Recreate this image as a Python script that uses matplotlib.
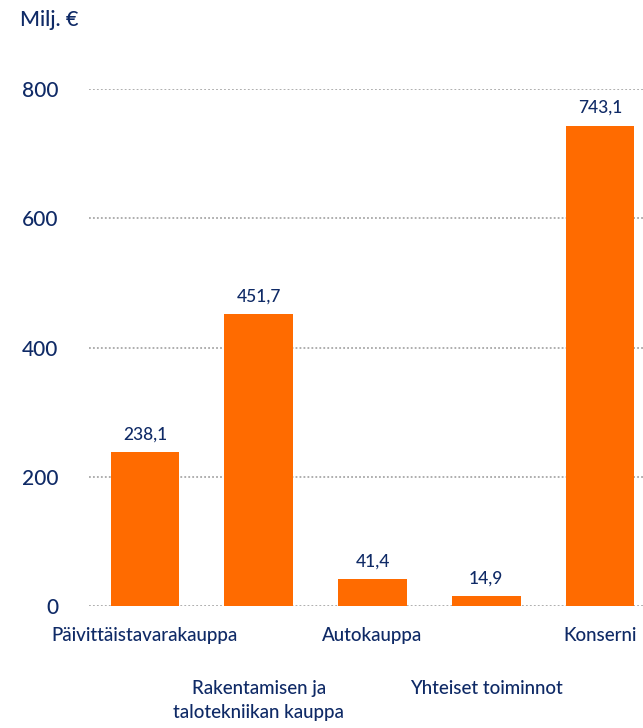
import matplotlib
matplotlib.use("Agg")
import matplotlib.pyplot as plt

categories = ["Päivittäistavarakauppa", "Rakentamisen ja\ntalotekniikan kauppa",
              "Autokauppa", "Yhteiset toiminnot", "Konserni"]
values = [238.1, 451.7, 41.4, 14.9, 743.1]
value_labels = ["238,1", "451,7", "41,4", "14,9", "743,1"]
yticks = [0, 200, 400, 600, 800]

navy = "#0f2a66"
orange = "#ff6b00"

plt.rcParams['font.family'] = ['Lato', 'DejaVu Sans']
plt.rcParams['font.weight'] = 'medium'

fig = plt.figure(figsize=(6.43, 7.28), dpi=100)
ax = fig.add_axes([89 / 643, 1 - 606 / 728, 1 - 89 / 643, (606 - 89) / 728])

x = list(range(len(categories)))
ax.bar(x, values, width=0.605, color=orange, zorder=3)

for xi, v, lab in zip(x, values, value_labels):
    ax.annotate(lab, (xi, v), xytext=(0, 7), textcoords="offset points",
                ha="center", va="bottom", fontsize=12.5, color=navy)

# category labels, staggered on two rows
for xi, cat in zip(x, categories):
    if xi % 2 == 0:
        off, va = -21, "center"
    else:
        off, va = -53, "top"
    ax.annotate(cat, (xi, 0), xycoords=("data", "axes fraction"),
                xytext=(0, off), textcoords="offset points",
                ha="center", va=va, fontsize=13.5, color=navy,
                linespacing=1.5, annotation_clip=False)

ax.set_xlim(-0.492, 4.378)
ax.set_ylim(0, 800)
ax.set_yticks(yticks)
ax.set_yticklabels([str(t) for t in yticks], fontsize=15, color=navy)
ax.tick_params(axis="y", length=0, pad=22)
ax.set_xticks([])
for s in ax.spines.values():
    s.set_visible(False)
ax.yaxis.grid(True, linestyle=(0, (1, 1.2)), color="#a8a8a8", linewidth=1.3, zorder=0)
ax.set_axisbelow(True)

fig.text(20 / 643, 1 - 20 / 728, "Milj. €", fontsize=15.5, color=navy, ha="left", va="center")

fig.savefig("out.png", dpi=100)
